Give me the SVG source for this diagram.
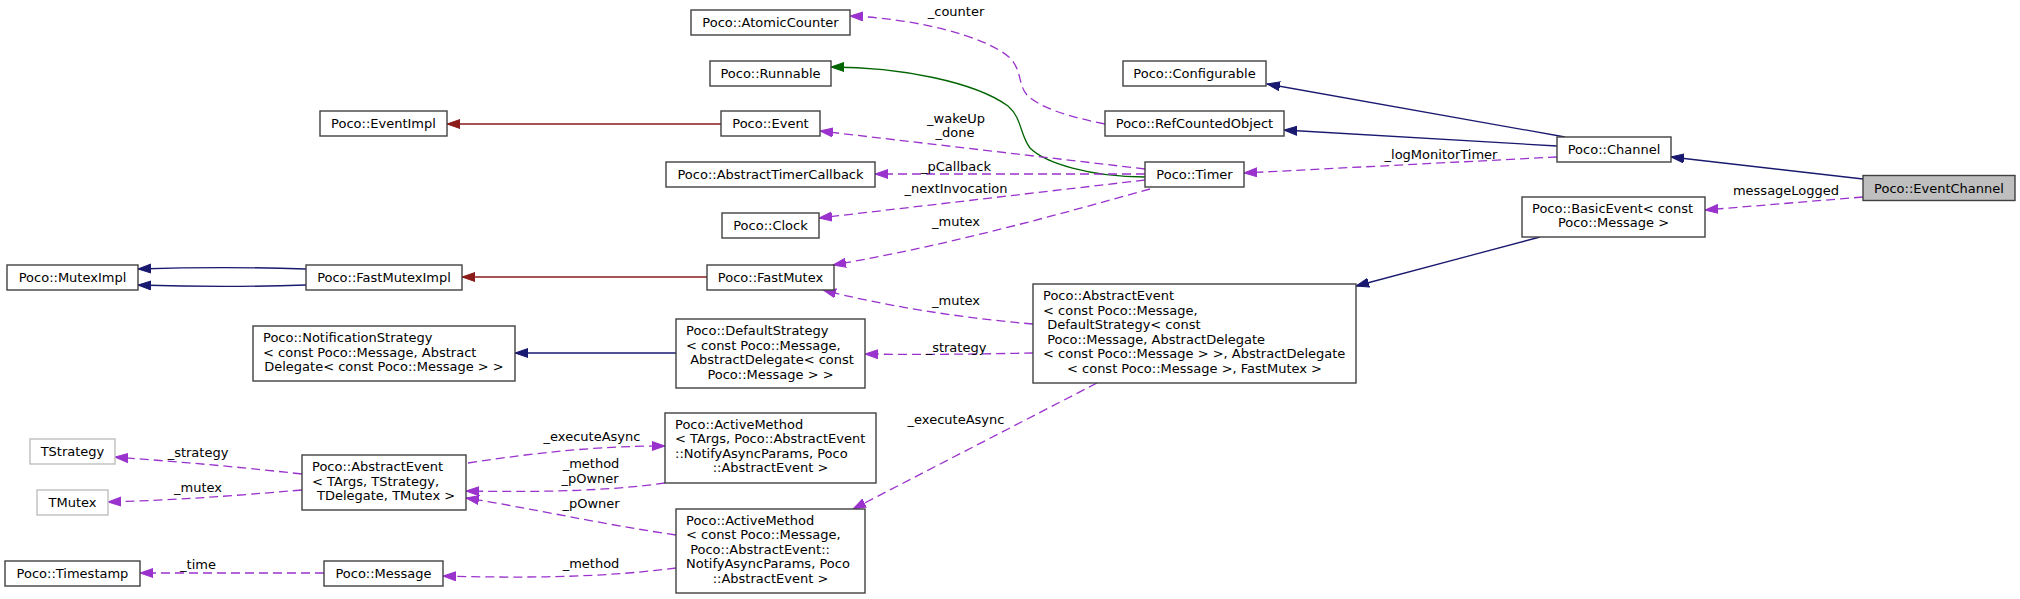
<svg xmlns="http://www.w3.org/2000/svg" width="2020" height="599" viewBox="0 0 2020 599">
<style>
text{font-family:"DejaVu Sans","Liberation Sans",sans-serif;font-size:13px;fill:#000}
.n rect{fill:#fff;stroke:#404040;stroke-width:1.4}
.g rect{fill:#fff;stroke:#bfbfbf;stroke-width:1.4}
.c text{text-anchor:middle}
.l{text-anchor:start}
.m{text-anchor:middle}
.e path{fill:none;stroke-width:1.3}
.pub{stroke:#191970;marker-end:url(#aB)}
.prot{stroke:#006400;marker-end:url(#aG)}
.priv{stroke:#8b1a1a;marker-end:url(#aR)}
.use{stroke:#9a32cd;stroke-dasharray:9,5;marker-end:url(#aP)}
.lab{text-anchor:middle}
</style>
<defs>
<marker id="aB" markerUnits="userSpaceOnUse" markerWidth="15" markerHeight="11" refX="13" refY="5" orient="auto"><path d="M0,0.5 L13,5 L0,9.5 Z" fill="#191970" stroke="#191970" stroke-width="1"/></marker>
<marker id="aG" markerUnits="userSpaceOnUse" markerWidth="15" markerHeight="11" refX="13" refY="5" orient="auto"><path d="M0,0.5 L13,5 L0,9.5 Z" fill="#006400" stroke="#006400" stroke-width="1"/></marker>
<marker id="aR" markerUnits="userSpaceOnUse" markerWidth="15" markerHeight="11" refX="13" refY="5" orient="auto"><path d="M0,0.5 L13,5 L0,9.5 Z" fill="#8b1a1a" stroke="#8b1a1a" stroke-width="1"/></marker>
<marker id="aP" markerUnits="userSpaceOnUse" markerWidth="15" markerHeight="11" refX="13" refY="5" orient="auto"><path d="M0,0.5 L13,5 L0,9.5 Z" fill="#9a32cd" stroke="#9a32cd" stroke-width="1"/></marker>
</defs>
<rect width="2020" height="599" fill="#fff"/>

<g id="connectors" class="e">
<path class="pub" d="M1863,179 L1671,157"/>
<path class="pub" d="M1565,137 L1267,84"/>
<path class="pub" d="M1557,146 L1284,130"/>
<path class="pub" d="M1540,237 L1356,286"/>
<path class="pub" d="M676,353 L515,353"/>
<path class="pub" d="M306,269 C250,267 200,267 138,269"/>
<path class="pub" d="M306,285 C250,287 200,287 138,285"/>
<path class="prot" d="M1145,177 C1090,177 1045,163 1030,148 C1020,135 1022,118 1008,106 C975,82 900,67 831,67"/>
<path class="priv" d="M721,124 L447,124"/>
<path class="priv" d="M707,277 L462,277"/>
<path class="use" d="M1863,197 L1705,210"/>
<path class="use" d="M1557,157 L1244,173"/>
<path class="use" d="M1105,124 C1070,117 1040,108 1027,95 C1018,85 1022,70 1010,58 C985,35 910,18 850,16"/>
<path class="use" d="M1145,169 L820,131"/>
<path class="use" d="M1145,174 L875,174"/>
<path class="use" d="M1145,180 L819,218"/>
<path class="use" d="M1150,189 C1060,214 950,245 833,265"/>
<path class="use" d="M1033,324 C960,318 880,305 823,290"/>
<path class="use" d="M1033,353 C980,354 920,355 865,354"/>
<path class="use" d="M1097,383 L853,509"/>
<path class="use" d="M468,463 C540,452 600,446 665,446"/>
<path class="use" d="M665,483 C600,492 530,492 466,491"/>
<path class="use" d="M676,535 C600,524 530,508 466,498"/>
<path class="use" d="M676,568 C600,578 520,578 443,576"/>
<path class="use" d="M302,474 C230,466 180,462 115,457"/>
<path class="use" d="M302,490 C230,496 180,500 108,502"/>
<path class="use" d="M324,573 L140,573"/>
</g>

<g id="labels">
<text class="lab" x="1786" y="195">messageLogged</text>
<text class="lab" x="1441" y="159">_logMonitorTimer</text>
<text class="lab" x="956" y="16">_counter</text>
<text class="lab" x="956" y="123">_wakeUp</text>
<text class="lab" x="955" y="137">_done</text>
<text class="lab" x="956" y="171">_pCallback</text>
<text class="lab" x="956" y="193">_nextInvocation</text>
<text class="lab" x="956" y="226">_mutex</text>
<text class="lab" x="956" y="305">_mutex</text>
<text class="lab" x="956" y="352">_strategy</text>
<text class="lab" x="956" y="424">_executeAsync</text>
<text class="lab" x="592" y="441">_executeAsync</text>
<text class="lab" x="591" y="468">_method</text>
<text class="lab" x="590" y="483">_pOwner</text>
<text class="lab" x="591" y="508">_pOwner</text>
<text class="lab" x="591" y="568">_method</text>
<text class="lab" x="198" y="457">_strategy</text>
<text class="lab" x="198" y="492">_mutex</text>
<text class="lab" x="198" y="569">_time</text>
</g>

<g id="n-eventchannel" class="n c"><rect x="1863" y="175.5" width="152" height="25" style="fill:#bfbfbf"/><text x="1939" y="192.5">Poco::EventChannel</text></g>
<g id="n-channel" class="n c"><rect x="1557" y="137" width="114" height="25"/><text x="1614" y="154">Poco::Channel</text></g>
<g id="n-configurable" class="n c"><rect x="1123" y="61" width="143" height="25"/><text x="1194.5" y="78">Poco::Configurable</text></g>
<g id="n-refcountedobject" class="n c"><rect x="1105" y="111" width="179" height="25"/><text x="1194.5" y="128">Poco::RefCountedObject</text></g>
<g id="n-atomiccounter" class="n c"><rect x="691" y="10" width="159" height="25"/><text x="770.5" y="27">Poco::AtomicCounter</text></g>
<g id="n-timer" class="n c"><rect x="1145" y="162" width="99" height="25"/><text x="1194.5" y="179">Poco::Timer</text></g>
<g id="n-runnable" class="n c"><rect x="710" y="61" width="121" height="25"/><text x="770.5" y="78">Poco::Runnable</text></g>
<g id="n-event" class="n c"><rect x="721" y="111" width="99" height="25"/><text x="770.5" y="128">Poco::Event</text></g>
<g id="n-eventimpl" class="n c"><rect x="320" y="111" width="127" height="25"/><text x="383.5" y="128">Poco::EventImpl</text></g>
<g id="n-abstracttimercallback" class="n c"><rect x="666" y="162" width="209" height="25"/><text x="770.5" y="179">Poco::AbstractTimerCallback</text></g>
<g id="n-clock" class="n c"><rect x="722" y="213" width="97" height="25"/><text x="770.5" y="230">Poco::Clock</text></g>
<g id="n-fastmutex" class="n c"><rect x="707" y="265" width="127" height="25"/><text x="770.5" y="282">Poco::FastMutex</text></g>
<g id="n-fastmuteximpl" class="n c"><rect x="306" y="265" width="156" height="25"/><text x="384" y="282">Poco::FastMutexImpl</text></g>
<g id="n-muteximpl" class="n c"><rect x="7" y="265" width="131" height="25"/><text x="72.5" y="282">Poco::MutexImpl</text></g>

<g id="n-basicevent" class="n"><rect x="1522" y="197" width="183" height="40"/><text class="l" x="1532" y="212.5">Poco::BasicEvent&lt; const</text><text class="m" x="1613.5" y="227"> Poco::Message &gt;</text></g>

<g id="n-abstractevent-msg" class="n"><rect x="1033" y="284" width="323" height="99"/>
<text class="l" x="1043" y="300">Poco::AbstractEvent</text>
<text class="l" x="1043" y="314.5">&lt; const Poco::Message,</text>
<text class="l" x="1043" y="329" xml:space="preserve"> DefaultStrategy&lt; const</text>
<text class="l" x="1043" y="343.5" xml:space="preserve"> Poco::Message, AbstractDelegate</text>
<text class="l" x="1043" y="358">&lt; const Poco::Message &gt; &gt;, AbstractDelegate</text>
<text class="m" x="1194.5" y="372.5">&lt; const Poco::Message &gt;, FastMutex &gt;</text></g>

<g id="n-defaultstrategy" class="n"><rect x="676" y="319" width="189" height="69"/>
<text class="l" x="686" y="335">Poco::DefaultStrategy</text>
<text class="l" x="686" y="349.5">&lt; const Poco::Message,</text>
<text class="l" x="686" y="364" xml:space="preserve"> AbstractDelegate&lt; const</text>
<text class="m" x="770.5" y="378.5">Poco::Message &gt; &gt;</text></g>

<g id="n-notificationstrategy" class="n"><rect x="253" y="326" width="262" height="55"/>
<text class="l" x="263" y="342">Poco::NotificationStrategy</text>
<text class="l" x="263" y="356.5">&lt; const Poco::Message, Abstract</text>
<text class="m" x="384" y="371">Delegate&lt; const Poco::Message &gt; &gt;</text></g>

<g id="n-activemethod-targs" class="n"><rect x="665" y="413" width="211" height="70"/>
<text class="l" x="675" y="428.5">Poco::ActiveMethod</text>
<text class="l" x="675" y="443">&lt; TArgs, Poco::AbstractEvent</text>
<text class="l" x="675" y="457.5">::NotifyAsyncParams, Poco</text>
<text class="m" x="770.5" y="472">::AbstractEvent &gt;</text></g>

<g id="n-activemethod-msg" class="n"><rect x="676" y="509" width="189" height="84"/>
<text class="l" x="686" y="524.5">Poco::ActiveMethod</text>
<text class="l" x="686" y="539">&lt; const Poco::Message,</text>
<text class="l" x="686" y="553.5" xml:space="preserve"> Poco::AbstractEvent::</text>
<text class="l" x="686" y="568">NotifyAsyncParams, Poco</text>
<text class="m" x="770.5" y="582.5">::AbstractEvent &gt;</text></g>

<g id="n-abstractevent-tpl" class="n"><rect x="302" y="455" width="164" height="55"/>
<text class="l" x="312" y="471">Poco::AbstractEvent</text>
<text class="l" x="312" y="485.5">&lt; TArgs, TStrategy,</text>
<text class="m" x="384" y="500" xml:space="preserve"> TDelegate, TMutex &gt;</text></g>

<g id="n-tstrategy" class="g c"><rect x="30" y="439" width="85" height="25"/><text x="72.5" y="456">TStrategy</text></g>
<g id="n-tmutex" class="g c"><rect x="37" y="490" width="71" height="25"/><text x="72.5" y="507">TMutex</text></g>
<g id="n-message" class="n c"><rect x="324" y="561" width="119" height="25"/><text x="383.5" y="578">Poco::Message</text></g>
<g id="n-timestamp" class="n c"><rect x="5" y="561" width="135" height="25"/><text x="72.5" y="578">Poco::Timestamp</text></g>
</svg>
